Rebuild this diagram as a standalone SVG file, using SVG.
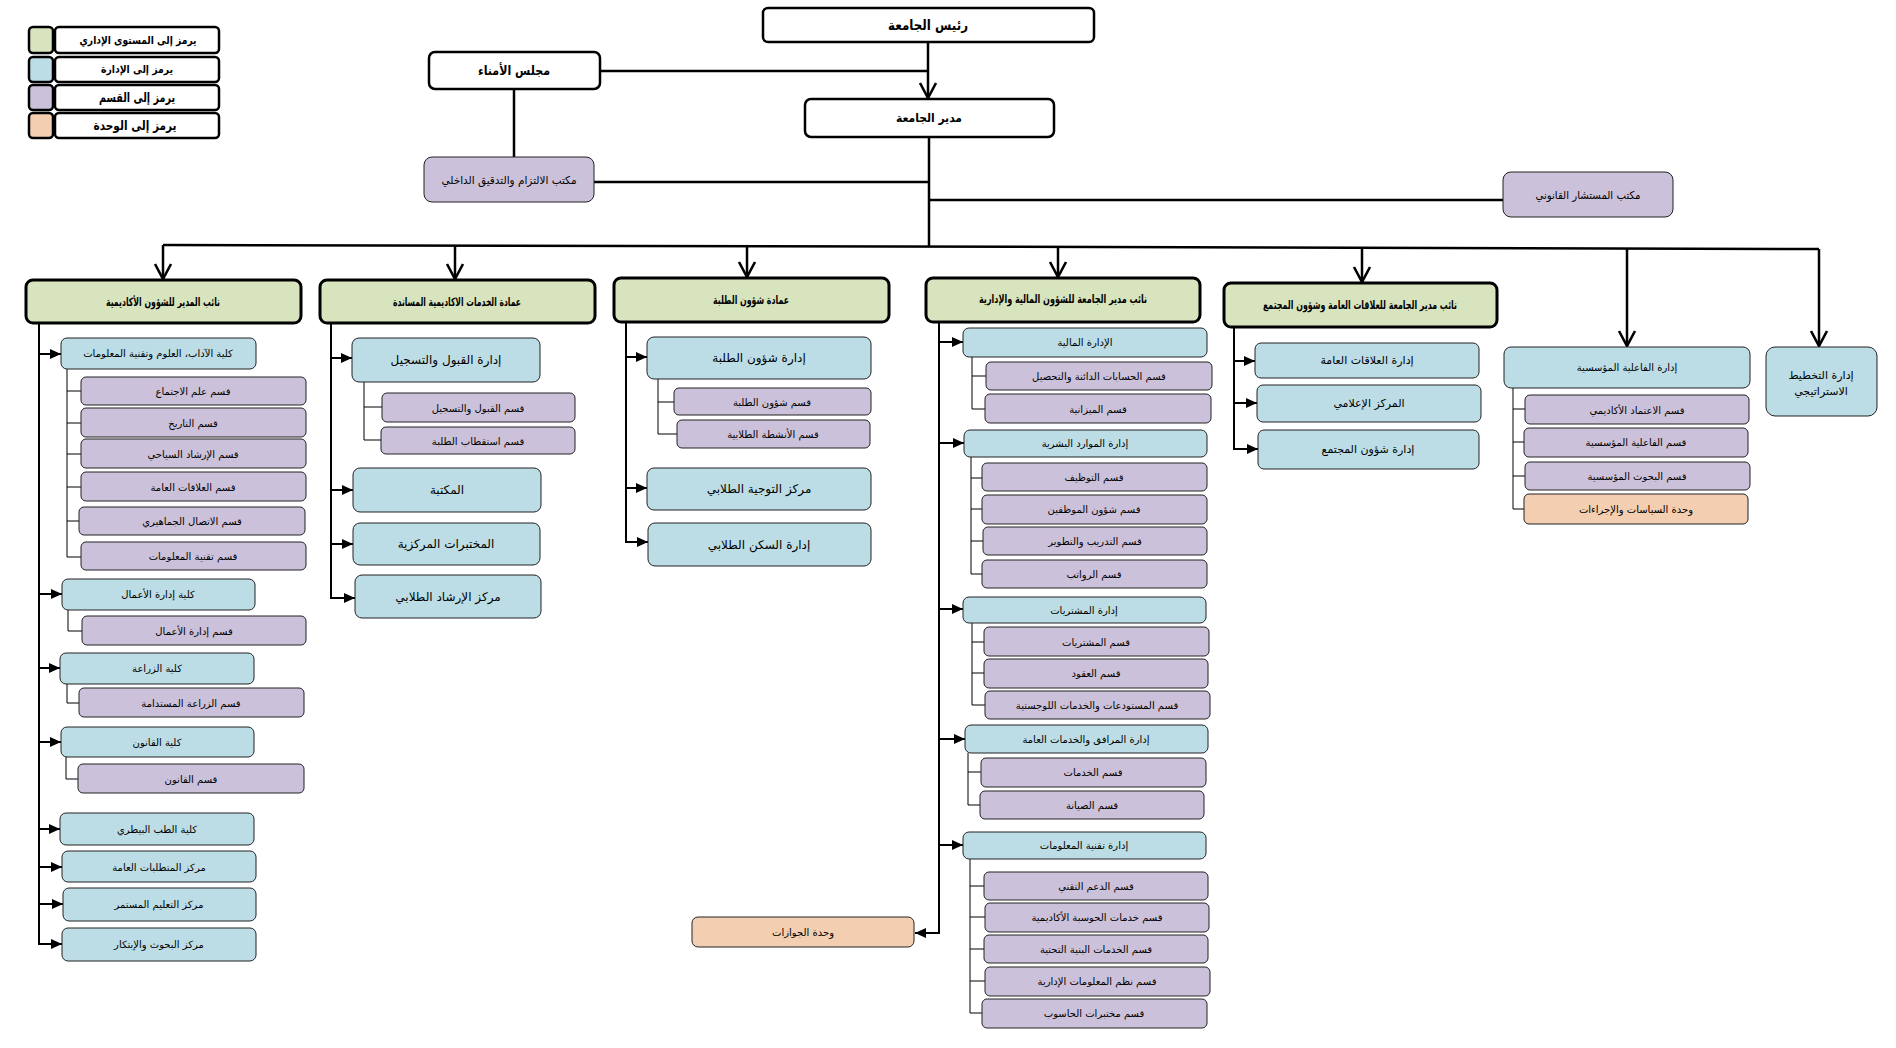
<svg xmlns="http://www.w3.org/2000/svg" width="1896" height="1048" viewBox="0 0 1896 1048">
<defs>
<style>
.bg{fill:#fff}
.w{fill:#fff;stroke:#000;stroke-width:2.5}
.l1{fill:#d7e4bd;stroke:#000;stroke-width:3}
.b{fill:#bcdde6;stroke:#222;stroke-width:1}
.p{fill:#ccc1da;stroke:#222;stroke-width:1}
.o{fill:#f4ceb0;stroke:#222;stroke-width:1}
text{font-family:"DejaVu Sans","Noto Sans",sans-serif;fill:#000;text-anchor:middle;dominant-baseline:central;direction:rtl}
.t{font-size:10px}
.tm{font-size:12px}
.tb{font-size:11px;font-weight:bold}
.tl{font-size:11.5px;font-weight:bold}
.tt{font-size:13px;font-weight:bold}
.k{fill:none;stroke:#000;stroke-width:2.5}
.k2{fill:none;stroke:#000;stroke-width:2}
.s{fill:none;stroke:#000;stroke-width:1}
</style>
<marker id="v" viewBox="-1 -10 18 20" refX="15" refY="0" markerWidth="18" markerHeight="20" markerUnits="userSpaceOnUse" orient="auto">
<path d="M0,-8 L15,0 L0,8" fill="none" stroke="#000" stroke-width="2.6"/>
</marker>
<marker id="a" viewBox="0 -6 12 12" refX="11" refY="0" markerWidth="12" markerHeight="12" markerUnits="userSpaceOnUse" orient="auto">
<path d="M0,-5 L11,0 L0,5 z" fill="#000"/>
</marker>
</defs>
<rect class="bg" x="0" y="0" width="1896" height="1048"/>

<g id="connectors">
<path class="k" d="M928,42 V98" marker-end="url(#v)"/>
<path class="k" d="M600,71 H928"/>
<path class="k" d="M514,89 V157"/>
<path class="k" d="M929,137 V246"/>
<path class="k" d="M594,182 H929"/>
<path class="k" d="M929,200 H1503"/>
<path class="k" d="M163,245 L1100,247 L1819,249"/>
<path class="k" d="M163,245 V279" marker-end="url(#v)"/>
<path class="k" d="M455,246 V279" marker-end="url(#v)"/>
<path class="k" d="M747,246 V277" marker-end="url(#v)"/>
<path class="k" d="M1058,247 V277" marker-end="url(#v)"/>
<path class="k" d="M1362,248 V282" marker-end="url(#v)"/>
<path class="k" d="M1627,248 V346" marker-end="url(#v)"/>
<path class="k" d="M1819,249 V346" marker-end="url(#v)"/>
<!-- col1 -->
<path class="k2" d="M39,323 V944"/>
<path class="k2" d="M39,354 H61" marker-end="url(#a)"/>
<path class="k2" d="M39,594 H62" marker-end="url(#a)"/>
<path class="k2" d="M39,668 H60" marker-end="url(#a)"/>
<path class="k2" d="M39,742 H61" marker-end="url(#a)"/>
<path class="k2" d="M39,829 H60" marker-end="url(#a)"/>
<path class="k2" d="M39,867 H62" marker-end="url(#a)"/>
<path class="k2" d="M39,904 H63" marker-end="url(#a)"/>
<path class="k2" d="M38,944 H62" marker-end="url(#a)"/>
<path class="s" d="M67,369 V557 M67,391 H81 M67,423 H81 M67,454 H81 M67,487 H81 M67,521 H79 M67,557 H81"/>
<path class="s" d="M68,610 V631 H82"/>
<path class="s" d="M67,684 V703 H79"/>
<path class="s" d="M66,757 V779 H78"/>
<!-- col2 -->
<path class="k2" d="M331,323 V598"/>
<path class="k2" d="M331,358 H352" marker-end="url(#a)"/>
<path class="k2" d="M331,490 H353" marker-end="url(#a)"/>
<path class="k2" d="M331,544 H353" marker-end="url(#a)"/>
<path class="k2" d="M330,598 H355" marker-end="url(#a)"/>
<path class="s" d="M364,382 V440 M364,407 H382 M364,440 H381"/>
<!-- col3 -->
<path class="k2" d="M626,322 V542"/>
<path class="k2" d="M626,357 H647" marker-end="url(#a)"/>
<path class="k2" d="M626,488 H647" marker-end="url(#a)"/>
<path class="k2" d="M625,542 H648" marker-end="url(#a)"/>
<path class="s" d="M658,379 V434 M658,402 H674 M658,434 H677"/>
<!-- col4 -->
<path class="k2" d="M939,322 V933"/>
<path class="k2" d="M940,933 H915" marker-end="url(#a)"/>
<path class="k2" d="M939,342 H963" marker-end="url(#a)"/>
<path class="k2" d="M939,443 H964" marker-end="url(#a)"/>
<path class="k2" d="M939,609 H963" marker-end="url(#a)"/>
<path class="k2" d="M939,739 H965" marker-end="url(#a)"/>
<path class="k2" d="M939,845 H963" marker-end="url(#a)"/>
<path class="s" d="M972,357 V409 M972,376 H986 M972,409 H985"/>
<path class="s" d="M971,457 V574 M971,478 H982 M971,509 H982 M971,541 H983 M971,574 H982"/>
<path class="s" d="M972,623 V705 M972,642 H984 M972,673 H984 M972,705 H985"/>
<path class="s" d="M968,753 V805 M968,772 H981 M968,805 H980"/>
<path class="s" d="M970,859 V1013 M970,886 H984 M970,917 H985 M970,949 H984 M970,981 H985 M970,1013 H982"/>
<!-- col5 -->
<path class="k2" d="M1234,327 V449"/>
<path class="k2" d="M1234,361 H1255" marker-end="url(#a)"/>
<path class="k2" d="M1234,403 H1257" marker-end="url(#a)"/>
<path class="k2" d="M1233,449 H1258" marker-end="url(#a)"/>
<!-- col6 -->
<path class="s" d="M1513,388 V509 M1513,409 H1525 M1513,442 H1524 M1513,476 H1525 M1513,509 H1524"/>
</g>

<g id="legend">
<rect class="l1" x="29" y="27" width="24" height="26" rx="4" style="stroke-width:2.5"/>
<rect class="w" x="55" y="27" width="164" height="26" rx="4"/>
<text class="tb" x="138" y="40" textLength="117" lengthAdjust="spacingAndGlyphs">يرمز إلى المستوى الإداري</text>
<rect class="b" x="29" y="57" width="24" height="25" rx="4" style="stroke:#000;stroke-width:2.5"/>
<rect class="w" x="55" y="57" width="164" height="25" rx="4"/>
<text class="tb" x="137" y="69" textLength="72" lengthAdjust="spacingAndGlyphs">يرمز إلى الإدارة</text>
<rect class="p" x="29" y="85" width="24" height="25" rx="4" style="stroke:#000;stroke-width:2.5"/>
<rect class="w" x="55" y="85" width="164" height="25" rx="4"/>
<text class="tt" x="137" y="97" textLength="76" lengthAdjust="spacingAndGlyphs">يرمز إلى القسم</text>
<rect class="o" x="29" y="113" width="24" height="25" rx="4" style="stroke:#000;stroke-width:2.5"/>
<rect class="w" x="55" y="113" width="164" height="25" rx="4"/>
<text class="tt" x="135" y="125" textLength="83" lengthAdjust="spacingAndGlyphs">يرمز إلى الوحدة</text>
</g>

<g id="president"><rect class="w" x="763" y="8" width="331" height="34" rx="5"/><text class="tt" x="928" y="25" style="font-size:14px" textLength="80" lengthAdjust="spacingAndGlyphs">رئيس الجامعة</text></g>
<g id="board"><rect class="w" x="429" y="52" width="171" height="37" rx="6"/><text class="tt" x="514" y="70" textLength="72" lengthAdjust="spacingAndGlyphs">مجلس الأمناء</text></g>
<g id="director"><rect class="w" x="805" y="99" width="249" height="38" rx="6"/><text class="tt" x="929" y="118" style="font-size:12px" textLength="66" lengthAdjust="spacingAndGlyphs">مدير الجامعة</text></g>
<g id="audit"><rect class="p" x="424" y="157" width="170" height="45" rx="8"/><text class="t" x="509" y="180" style="font-size:11px" textLength="135" lengthAdjust="spacingAndGlyphs">مكتب الالتزام والتدقيق الداخلي</text></g>
<g id="legal"><rect class="p" x="1503" y="172" width="170" height="45" rx="8"/><text class="t" x="1588" y="195" style="font-size:11px" textLength="105" lengthAdjust="spacingAndGlyphs">مكتب المستشار القانوني</text></g>

<g id="vp-academic"><rect class="l1" x="26" y="280" width="275" height="43" rx="7"/><text class="tl" x="163" y="302" textLength="114" lengthAdjust="spacingAndGlyphs">نائب المدير للشؤون الأكاديمية</text></g>
<g id="col-arts"><rect class="b" x="61" y="338" width="195" height="31" rx="6"/><text class="t" x="158" y="353">كلية الآداب، العلوم وتقنية المعلومات</text></g>
<g id="d-soc"><rect class="p" x="81" y="377" width="225" height="28" rx="5"/><text class="t" x="193" y="391">قسم علم الاجتماع</text></g>
<g id="d-hist"><rect class="p" x="81" y="408" width="225" height="29" rx="5"/><text class="t" x="193" y="423">قسم التاريخ</text></g>
<g id="d-tour"><rect class="p" x="81" y="439" width="225" height="29" rx="5"/><text class="t" x="193" y="454">قسم الإرشاد السياحي</text></g>
<g id="d-pr"><rect class="p" x="81" y="472" width="225" height="29" rx="5"/><text class="t" x="193" y="487">قسم العلاقات العامة</text></g>
<g id="d-mass"><rect class="p" x="79" y="507" width="226" height="28" rx="5"/><text class="t" x="192" y="521">قسم الاتصال الجماهيري</text></g>
<g id="d-it1"><rect class="p" x="81" y="542" width="225" height="28" rx="5"/><text class="t" x="193" y="556">قسم تقنية المعلومات</text></g>
<g id="col-bus"><rect class="b" x="62" y="579" width="193" height="31" rx="6"/><text class="t" x="158" y="594">كلية إدارة الأعمال</text></g>
<g id="d-bus"><rect class="p" x="82" y="616" width="224" height="29" rx="5"/><text class="t" x="194" y="631">قسم إدارة الأعمال</text></g>
<g id="col-agr"><rect class="b" x="60" y="653" width="194" height="31" rx="6"/><text class="t" x="157" y="668">كلية الزراعة</text></g>
<g id="d-agr"><rect class="p" x="79" y="688" width="225" height="29" rx="5"/><text class="t" x="191" y="703">قسم الزراعة المستدامة</text></g>
<g id="col-law"><rect class="b" x="61" y="727" width="193" height="30" rx="6"/><text class="t" x="157" y="742">كلية القانون</text></g>
<g id="d-law"><rect class="p" x="78" y="764" width="226" height="29" rx="5"/><text class="t" x="191" y="779">قسم القانون</text></g>
<g id="col-vet"><rect class="b" x="60" y="813" width="194" height="32" rx="6"/><text class="t" x="157" y="829">كلية الطب البيطري</text></g>
<g id="c-gen"><rect class="b" x="62" y="851" width="194" height="31" rx="6"/><text class="t" x="159" y="867">مركز المتطلبات العامة</text></g>
<g id="c-cont"><rect class="b" x="63" y="888" width="193" height="33" rx="6"/><text class="t" x="159" y="904">مركز التعليم المستمر</text></g>
<g id="c-res"><rect class="b" x="62" y="928" width="194" height="33" rx="6"/><text class="t" x="159" y="944">مركز البحوث والإبتكار</text></g>

<g id="dean-support"><rect class="l1" x="320" y="280" width="275" height="43" rx="7"/><text class="tl" x="457" y="302" textLength="128" lengthAdjust="spacingAndGlyphs">عمادة الخدمات الاكاديمية المساندة</text></g>
<g id="adm-reg"><rect class="b" x="352" y="338" width="188" height="44" rx="7"/><text class="tm" x="446" y="360">إدارة القبول والتسجيل</text></g>
<g id="d-adm"><rect class="p" x="382" y="393" width="193" height="29" rx="5"/><text class="t" x="478" y="408">قسم القبول والتسجيل</text></g>
<g id="d-recr"><rect class="p" x="381" y="427" width="194" height="27" rx="5"/><text class="t" x="478" y="441">قسم استقطاب الطلبة</text></g>
<g id="library"><rect class="b" x="353" y="468" width="188" height="44" rx="7"/><text class="tm" x="447" y="490">المكتبة</text></g>
<g id="labs"><rect class="b" x="353" y="523" width="187" height="42" rx="7"/><text class="tm" x="446" y="544">المختبرات المركزية</text></g>
<g id="counsel"><rect class="b" x="355" y="575" width="186" height="43" rx="7"/><text class="tm" x="448" y="597">مركز الإرشاد الطلابي</text></g>

<g id="dean-students"><rect class="l1" x="614" y="278" width="275" height="44" rx="7"/><text class="tl" x="751" y="300" textLength="76" lengthAdjust="spacingAndGlyphs">عمادة شؤون الطلبة</text></g>
<g id="stu-aff"><rect class="b" x="647" y="337" width="224" height="42" rx="7"/><text class="tm" x="759" y="358">إدارة شؤون الطلبة</text></g>
<g id="d-stu"><rect class="p" x="674" y="388" width="197" height="27" rx="5"/><text class="t" x="772" y="402">قسم شؤون الطلبة</text></g>
<g id="d-act"><rect class="p" x="677" y="420" width="193" height="28" rx="5"/><text class="t" x="773" y="434">قسم الأنشطة الطلابية</text></g>
<g id="guidance"><rect class="b" x="647" y="468" width="224" height="42" rx="7"/><text class="tm" x="759" y="489">مركز التوجية الطلابي</text></g>
<g id="housing"><rect class="b" x="648" y="523" width="223" height="43" rx="7"/><text class="tm" x="759" y="545">إدارة السكن الطلابي</text></g>

<g id="vp-finance"><rect class="l1" x="926" y="278" width="274" height="44" rx="7"/><text class="tl" x="1063" y="299" textLength="168" lengthAdjust="spacingAndGlyphs">نائب مدير الجامعة للشؤون المالية والإدارية</text></g>
<g id="fin"><rect class="b" x="963" y="328" width="244" height="29" rx="6"/><text class="t" x="1085" y="342">الإدارة المالية</text></g>
<g id="d-recv"><rect class="p" x="986" y="362" width="226" height="28" rx="5"/><text class="t" x="1099" y="376">قسم الحسابات الدائنة والتحصيل</text></g>
<g id="d-budget"><rect class="p" x="985" y="394" width="226" height="29" rx="5"/><text class="t" x="1098" y="409">قسم الميزانية</text></g>
<g id="hr"><rect class="b" x="964" y="430" width="243" height="27" rx="6"/><text class="t" x="1085" y="443">إدارة الموارد البشرية</text></g>
<g id="d-hire"><rect class="p" x="982" y="463" width="225" height="28" rx="5"/><text class="t" x="1094" y="477">قسم التوظيف</text></g>
<g id="d-staff"><rect class="p" x="982" y="495" width="225" height="29" rx="5"/><text class="t" x="1094" y="509">قسم شؤون الموظفين</text></g>
<g id="d-train"><rect class="p" x="983" y="527" width="224" height="28" rx="5"/><text class="t" x="1095" y="541">قسم التدريب والتطوير</text></g>
<g id="d-pay"><rect class="p" x="982" y="560" width="225" height="28" rx="5"/><text class="t" x="1094" y="574">قسم الرواتب</text></g>
<g id="proc"><rect class="b" x="963" y="597" width="243" height="26" rx="6"/><text class="t" x="1084" y="610">إدارة المشتريات</text></g>
<g id="d-proc"><rect class="p" x="984" y="627" width="225" height="29" rx="5"/><text class="t" x="1096" y="642">قسم المشتريات</text></g>
<g id="d-contr"><rect class="p" x="984" y="659" width="224" height="29" rx="5"/><text class="t" x="1096" y="673">قسم العقود</text></g>
<g id="d-ware"><rect class="p" x="985" y="691" width="225" height="28" rx="5"/><text class="t" x="1097" y="705">قسم المستودعات والخدمات اللوجستية</text></g>
<g id="facil"><rect class="b" x="965" y="725" width="243" height="28" rx="6"/><text class="t" x="1086" y="739">إدارة المرافق والخدمات العامة</text></g>
<g id="d-serv"><rect class="p" x="981" y="758" width="225" height="29" rx="5"/><text class="t" x="1093" y="772">قسم الخدمات</text></g>
<g id="d-maint"><rect class="p" x="980" y="791" width="224" height="28" rx="5"/><text class="t" x="1092" y="805">قسم الصيانة</text></g>
<g id="itadm"><rect class="b" x="963" y="832" width="243" height="27" rx="6"/><text class="t" x="1084" y="845">إدارة تقنية المعلومات</text></g>
<g id="d-sup"><rect class="p" x="984" y="872" width="224" height="28" rx="5"/><text class="t" x="1096" y="886">قسم الدعم التقني</text></g>
<g id="d-acomp"><rect class="p" x="985" y="903" width="224" height="29" rx="5"/><text class="t" x="1097" y="917">قسم خدمات الحوسبة الأكاديمية</text></g>
<g id="d-infra"><rect class="p" x="984" y="935" width="224" height="28" rx="5"/><text class="t" x="1096" y="949">قسم الخدمات البنية التحتية</text></g>
<g id="d-mis"><rect class="p" x="985" y="967" width="225" height="29" rx="5"/><text class="t" x="1097" y="981">قسم نظم المعلومات الإدارية</text></g>
<g id="d-clab"><rect class="p" x="982" y="999" width="225" height="29" rx="5"/><text class="t" x="1094" y="1013">قسم مختبرات الحاسوب</text></g>
<g id="passports"><rect class="o" x="692" y="917" width="222" height="30" rx="6"/><text class="t" x="803" y="932">وحدة الجوازات</text></g>

<g id="vp-pr"><rect class="l1" x="1224" y="283" width="273" height="44" rx="7"/><text class="tl" x="1360" y="305" textLength="194" lengthAdjust="spacingAndGlyphs">نائب مدير الجامعة للعلاقات العامة وشؤون المجتمع</text></g>
<g id="pr-adm"><rect class="b" x="1255" y="343" width="224" height="35" rx="6"/><text class="t" x="1367" y="360" style="font-size:11px">إدارة العلاقات العامة</text></g>
<g id="media"><rect class="b" x="1257" y="385" width="224" height="37" rx="6"/><text class="t" x="1369" y="403" style="font-size:11px">المركز الإعلامي</text></g>
<g id="community"><rect class="b" x="1258" y="430" width="221" height="39" rx="6"/><text class="t" x="1368" y="449" style="font-size:11px">إدارة شؤون المجتمع</text></g>

<g id="inst-eff"><rect class="b" x="1504" y="347" width="246" height="41" rx="7"/><text class="t" x="1627" y="367">إدارة الفاعلية المؤسسية</text></g>
<g id="d-accr"><rect class="p" x="1525" y="395" width="224" height="29" rx="5"/><text class="t" x="1637" y="410">قسم الاعتماد الأكاديمي</text></g>
<g id="d-ieff"><rect class="p" x="1524" y="428" width="224" height="29" rx="5"/><text class="t" x="1636" y="442">قسم الفاعلية المؤسسية</text></g>
<g id="d-ires"><rect class="p" x="1525" y="462" width="225" height="28" rx="5"/><text class="t" x="1637" y="476">قسم البحوث المؤسسية</text></g>
<g id="u-policy"><rect class="o" x="1524" y="494" width="224" height="30" rx="5"/><text class="t" x="1636" y="509">وحدة السياسات والإجراءات</text></g>

<g id="strategic"><rect class="b" x="1766" y="347" width="111" height="69" rx="9"/><text class="t" x="1821" y="375" style="font-size:11px">إدارة التخطيط</text><text class="t" x="1821" y="391" style="font-size:11px">الاستراتيجي</text></g>
</svg>
